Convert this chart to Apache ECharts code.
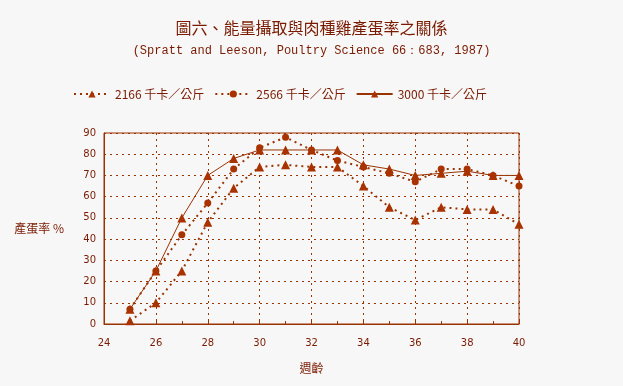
<!DOCTYPE html>
<html><head><meta charset="utf-8">
<script src="https://cdn.jsdelivr.net/npm/echarts@6/dist/echarts.min.js"></script>
<style>html,body{margin:0;padding:0;background:#f7f7f7}#c{width:623px;height:386px}</style>
</head><body><div id="c"></div>
<script>
var weeks = [25,26,27,28,29,30,31,32,33,34,35,36,37,38,39,40];
var s2166 = [1.5,10,25,48,64,74,75,74,74,65,55,49,55,54,54,47];
var s2566 = [7,25,42,57,73,83,88,82,77,74,71,67,73,73,70,65];
var s3000 = [7,25,50,70,78,82,82,82,82,75,73,70,71,72,70,70];
var names = ['2166 千卡／公斤','2566 千卡／公斤','3000 千卡／公斤'];
function pairs(v){return weeks.map(function(w,i){return [w,v[i]];});}
var lineC = '#993300', markC = '#a83200', txtC = '#7a1a00';
var cjk = '"Noto Sans CJK TC", sans-serif';
var chart = echarts.init(document.getElementById('c'));
chart.setOption({
  backgroundColor:'#f7f7f7',
  animation:false,
  title:[{text:'圖六、能量攝取與肉種雞產蛋率之關係',left:'center',top:15,textStyle:{fontFamily:cjk,fontSize:16,fontWeight:'normal',color:txtC}},
         {text:'(Spratt and Leeson, Poultry Science 66：683, 1987)',left:'center',top:40,textStyle:{fontFamily:'"Liberation Mono", monospace',fontSize:12,fontWeight:'normal',color:txtC}}],
  legend:{top:83,left:68,itemWidth:36,itemHeight:9,itemGap:10,textStyle:{fontFamily:cjk,fontSize:12,color:txtC},data:names},
  grid:{left:104,right:104,top:133,bottom:62,show:true,borderColor:lineC,borderWidth:1,backgroundColor:'transparent'},
  xAxis:{type:'value',min:24,max:40,interval:2,name:'週齡',nameLocation:'middle',nameGap:38,
    nameTextStyle:{fontFamily:cjk,fontSize:12,color:txtC},
    axisLine:{lineStyle:{color:lineC}},axisTick:{inside:true,length:3,lineStyle:{color:lineC}},
    minorTick:{show:true,splitNumber:2,length:3,lineStyle:{color:lineC}},
    axisLabel:{fontFamily:'"DejaVu Sans", sans-serif',fontSize:10,color:txtC,margin:14},
    splitLine:{show:true,lineStyle:{color:lineC,type:[2,4]}}},
  yAxis:{type:'value',min:0,max:90,interval:10,name:'產蛋率 %',nameLocation:'middle',nameGap:40,nameRotate:0,
    nameTextStyle:{fontFamily:cjk,fontSize:12,color:txtC,align:'right',padding:[0,0,0,0]},
    axisLine:{show:true,lineStyle:{color:lineC}},axisTick:{show:false},
    axisLabel:{fontFamily:'"DejaVu Sans", sans-serif',fontSize:10,color:txtC,margin:8},
    splitLine:{show:true,lineStyle:{color:lineC,type:[2,4]}}},
  series:[
    {name:names[0],type:'line',data:pairs(s2166),symbol:'triangle',symbolSize:9,
      lineStyle:{color:lineC,width:2,type:[2,4]},itemStyle:{color:markC}},
    {name:names[1],type:'line',data:pairs(s2566),symbol:'circle',symbolSize:7,
      lineStyle:{color:lineC,width:2,type:[2,4]},itemStyle:{color:markC}},
    {name:names[2],type:'line',data:pairs(s3000),symbol:'triangle',symbolSize:9,
      lineStyle:{color:lineC,width:1,type:'solid'},itemStyle:{color:markC}}
  ]
});
</script></body></html>
